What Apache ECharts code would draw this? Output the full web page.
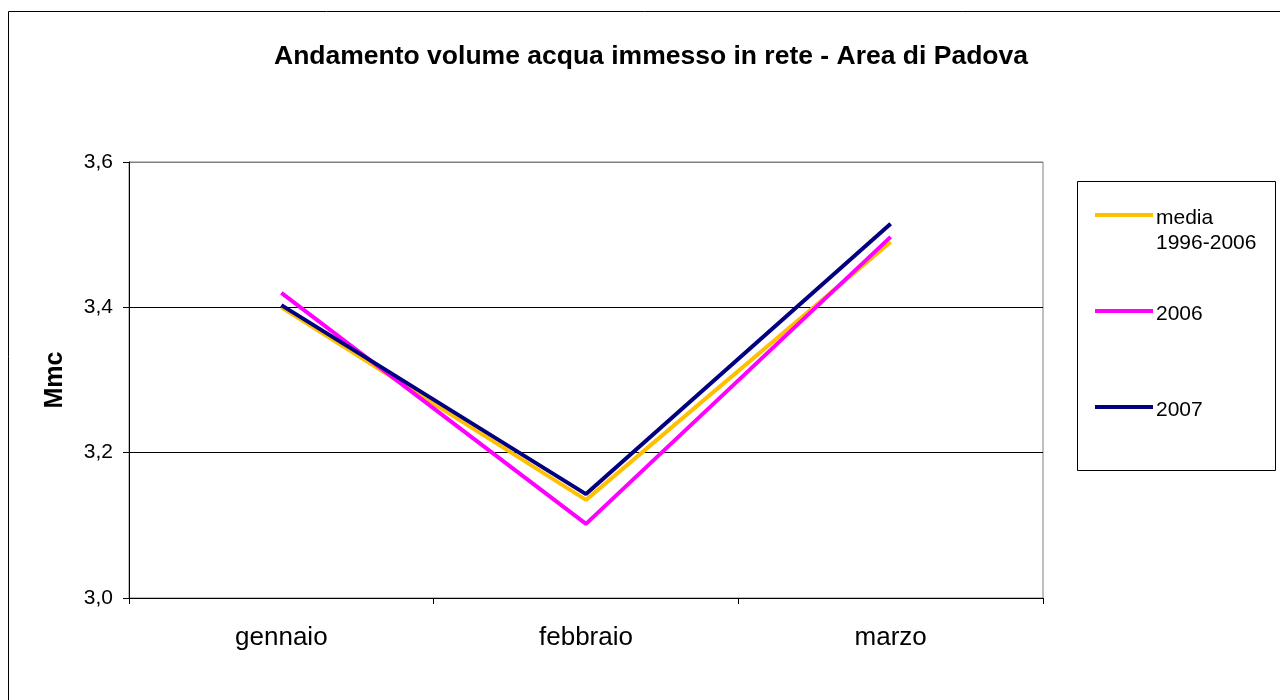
<!DOCTYPE html>
<html>
<head>
<meta charset="utf-8">
<script src="https://cdn.jsdelivr.net/npm/echarts@6/dist/echarts.min.js"></script>
<style>
html,body{margin:0;padding:0;background:#fff;}
#chart{width:1280px;height:700px;}
</style>
</head>
<body>
<div id="chart"></div>
<script>
var categories = ['gennaio', 'febbraio', 'marzo'];
var seriesNames = ['media\n1996-2006', '2006', '2007'];
var mediaValues = [3.400, 3.135, 3.490];
var values2006 = [3.420, 3.102, 3.497];
var values2007 = [3.403, 3.143, 3.515];
var yTicks = [3.0, 3.2, 3.4, 3.6];
var colors = ['#FFC000', '#FF00FF', '#000080'];

var allValues = [mediaValues, values2006, values2007];
var font = '"Liberation Sans", Arial, sans-serif';

var chart = echarts.init(document.getElementById('chart'), null, {renderer: 'canvas'});

var series = allValues.map(function (vals, i) {
  return {
    name: seriesNames[i],
    type: 'line',
    data: vals,
    symbol: 'none',
    lineStyle: {color: colors[i], width: 4},
    itemStyle: {color: colors[i]},
    z: 2 + i,
    animation: false
  };
});

var legendGraphics = [
  {type: 'rect', shape: {x: 1077.5, y: 181.5, width: 198, height: 289},
   style: {fill: '#fff', stroke: '#000', lineWidth: 1}, z: 10}
];
var legendY = [215, 311, 407];
seriesNames.forEach(function (name, i) {
  legendGraphics.push({type: 'line', shape: {x1: 1095, y1: legendY[i], x2: 1153, y2: legendY[i]},
    style: {stroke: colors[i], lineWidth: 4}, z: 11});
  legendGraphics.push({type: 'text', x: 1156, y: legendY[i] - 9.5,
    style: {text: name, font: '21px ' + font, fill: '#000', lineHeight: 25, textVerticalAlign: 'top'}, z: 11});
});

var option = {
  backgroundColor: '#fff',
  animation: false,
  title: {
    text: 'Andamento volume acqua immesso in rete - Area di Padova',
    left: 646, top: 38, textAlign: 'center',
    textStyle: {fontFamily: font, fontSize: 26.5, fontWeight: 'bold', color: '#000'}
  },
  grid: {
    left: 129, top: 162, width: 914, height: 436,
    show: true, borderColor: '#808080', borderWidth: 1, backgroundColor: 'transparent'
  },
  xAxis: {
    type: 'category',
    data: categories,
    boundaryGap: true,
    axisLine: {lineStyle: {color: '#000', width: 1}},
    axisTick: {show: true, length: 6, inside: false, alignWithLabel: false, lineStyle: {color: '#000'}},
    axisLabel: {fontFamily: font, fontSize: 26, color: '#000', margin: 27},
    splitLine: {show: false}
  },
  yAxis: {
    type: 'value',
    min: yTicks[0], max: yTicks[yTicks.length - 1], interval: 0.2,
    name: 'Mmc',
    nameLocation: 'middle',
    nameGap: 61,
    nameRotate: 90,
    nameTextStyle: {fontFamily: font, fontSize: 25, fontWeight: 'bold', color: '#000'},
    axisLine: {show: true, lineStyle: {color: '#000', width: 1}},
    axisTick: {show: true, length: 6, inside: false, lineStyle: {color: '#000'}},
    axisLabel: {
      fontFamily: font, fontSize: 21, color: '#000', margin: 16,
      formatter: function (v) { return v.toFixed(1).replace('.', ','); }
    },
    splitLine: {show: true, lineStyle: {color: ['#000', '#000', '#000', '#808080'], width: 1}}
  },
  series: series,
  graphic: [
    {type: 'rect', shape: {x: 8.5, y: 11.5, width: 1300, height: 700},
     style: {fill: 'none', stroke: '#000', lineWidth: 1}, z: 0, silent: true}
  ].concat(legendGraphics)
};

chart.setOption(option);
</script>
</body>
</html>
